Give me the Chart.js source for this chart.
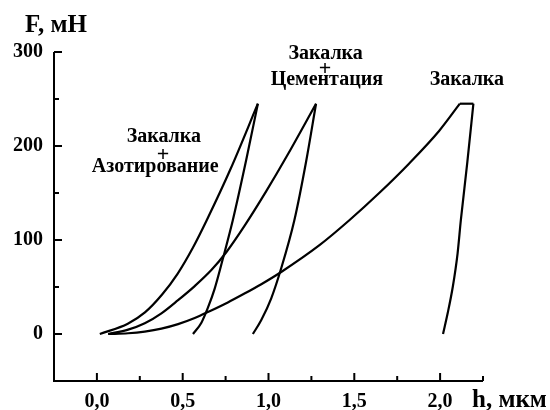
<!DOCTYPE html>
<html>
<head>
<meta charset="utf-8">
<script src="https://cdn.jsdelivr.net/npm/chart.js@4.4.1/dist/chart.umd.min.js"></script>
<style>
  html, body { margin: 0; padding: 0; background: #fff; }
  #wrap { width: 550px; height: 410px; position: relative; }
</style>
</head>
<body>
<div id="wrap"><canvas id="c"></canvas></div>
<script>
// Indentation curves: depth h (µm) vs load F (mN), [h, F] pairs

// Закалка + Азотирование
const azotLoading   = [[0.017,0],[0.18,11],[0.28,23],[0.38,42],[0.47,64],[0.56,92],[0.64,121],[0.78,176],[0.938,245]];
const azotUnloading = [[0.560,0],[0.609,12],[0.647,28],[0.686,48],[0.734,80],[0.792,121],[0.870,185],[0.938,245]];

// Закалка + Цементация
const cementLoading   = [[0.066,0],[0.182,4.6],[0.279,11.4],[0.376,22],[0.473,36],[0.570,51],[0.667,68],[0.754,87],[0.860,115],[0.987,152],[1.103,188],[1.277,245]];
const cementUnloading = [[0.909,0],[0.958,14.9],[1.016,38],[1.074,69.9],[1.151,121.3],[1.219,183.3],[1.277,245]];

// Закалка
const quenchLoading   = [[0.066,0],[0.182,0.8],[0.279,2.6],[0.376,5.7],[0.473,10.5],[0.570,17],[0.660,24.5],[0.763,33.6],[0.860,43],[0.958,53],[1.074,66],[1.297,94.5],[1.471,121],[1.645,150],[1.820,181.5],[1.994,216],[2.115,245]];
const quenchHold      = [[2.115,245],[2.194,245]];
const quenchUnloading = [[2.017,0],[2.044,22],[2.074,50.3],[2.102,85.9],[2.121,121.3],[2.159,183.3],[2.194,245]];

// Axis ticks
const xMajorTicks = [0, 0.5, 1.0, 1.5, 2.0];
const xMinorTicks = [0.25, 0.75, 1.25, 1.75, 2.25];
const yMajorTicks = [0, 100, 200, 300];
const yMinorTicks = [50, 150, 250];

// Curve captions: lines of text anchored at (h, F)
const captions = [
  { h: 0.39, F: 204, text: 'Закалка' },
  { h: 0.385, F: 190, text: '+', plus: true },
  { h: 0.34, F: 172, text: 'Азотирование' },
  { h: 1.333, F: 293, text: 'Закалка' },
  { h: 1.33, F: 282, text: '+', plus: true },
  { h: 1.34, F: 265, text: 'Цементация' },
  { h: 2.156, F: 265, text: 'Закалка' }
];

const SERIF = '"Liberation Serif", "DejaVu Serif", serif';

const toPoints = arr => arr.map(([h, F]) => ({ x: h, y: F }));

function curve(arr, smooth) {
  return {
    data: toPoints(arr),
    showLine: true,
    borderColor: '#000',
    borderWidth: 2.2,
    pointRadius: 0,
    fill: false,
    cubicInterpolationMode: smooth ? 'monotone' : 'default',
    tension: 0
  };
}

// Axis lines with inward tick marks, axis titles and curve captions
const decorations = {
  id: 'decorations',
  afterDraw(chart) {
    const { ctx, chartArea: a, scales: { x, y } } = chart;
    ctx.save();
    ctx.strokeStyle = '#000';
    ctx.lineWidth = 2;
    ctx.lineCap = 'butt';
    ctx.beginPath();
    ctx.moveTo(a.left, a.top);
    ctx.lineTo(a.left, a.bottom);
    ctx.lineTo(a.right, a.bottom);
    ctx.stroke();

    ctx.beginPath();
    xMajorTicks.forEach(v => { const px = x.getPixelForValue(v); ctx.moveTo(px, a.bottom); ctx.lineTo(px, a.bottom - 8); });
    xMinorTicks.forEach(v => { const px = x.getPixelForValue(v); ctx.moveTo(px, a.bottom); ctx.lineTo(px, a.bottom - 5); });
    yMajorTicks.forEach(v => { const py = y.getPixelForValue(v); ctx.moveTo(a.left, py); ctx.lineTo(a.left + 8, py); });
    yMinorTicks.forEach(v => { const py = y.getPixelForValue(v); ctx.moveTo(a.left, py); ctx.lineTo(a.left + 5, py); });
    ctx.stroke();

    ctx.fillStyle = '#000';
    ctx.font = 'bold 25px ' + SERIF;
    ctx.textAlign = 'left';
    ctx.textBaseline = 'alphabetic';
    ctx.fillText('F, мН', 25, 32);
    ctx.fillText('h, мкм', 472, 407);

    ctx.textAlign = 'center';
    captions.forEach(c => {
      const px = x.getPixelForValue(c.h), py = y.getPixelForValue(c.F);
      ctx.font = c.plus ? 'bold 22px ' + SERIF : 'bold 20px ' + SERIF;
      ctx.textBaseline = c.plus ? 'middle' : 'alphabetic';
      ctx.fillText(c.text, px, py);
    });
    ctx.restore();
  }
};

const fmt = v => v.toFixed(1).replace('.', ',');

new Chart(document.getElementById('c'), {
  type: 'scatter',
  data: {
    datasets: [
      curve(azotLoading, true),
      curve(azotUnloading, true),
      curve(cementLoading, true),
      curve(cementUnloading, true),
      curve(quenchLoading, true),
      curve(quenchHold, false),
      curve(quenchUnloading, true)
    ]
  },
  options: {
    responsive: true,
    maintainAspectRatio: false,
    animation: false,
    layout: { padding: { top: 52, right: 67, left: 0, bottom: 0 } },
    plugins: { legend: { display: false }, tooltip: { enabled: false } },
    scales: {
      x: {
        type: 'linear',
        min: -0.25,
        max: 2.25,
        grid: { display: false, drawTicks: false },
        border: { display: false },
        afterBuildTicks: s => { s.ticks = xMajorTicks.map(v => ({ value: v })); },
        afterFit: s => { s.height = 29; },
        ticks: {
          padding: 9,
          color: '#000',
          font: { family: SERIF, size: 20, weight: 'bold' },
          callback: v => fmt(v)
        }
      },
      y: {
        type: 'linear',
        min: -50,
        max: 300,
        grid: { display: false, drawTicks: false },
        border: { display: false },
        afterBuildTicks: s => { s.ticks = yMajorTicks.map(v => ({ value: v })); },
        afterFit: s => { s.width = 54; },
        ticks: {
          padding: 11,
          color: '#000',
          font: { family: SERIF, size: 20, weight: 'bold' },
          callback: v => String(v)
        }
      }
    }
  },
  plugins: [decorations]
});
</script>
</body>
</html>
